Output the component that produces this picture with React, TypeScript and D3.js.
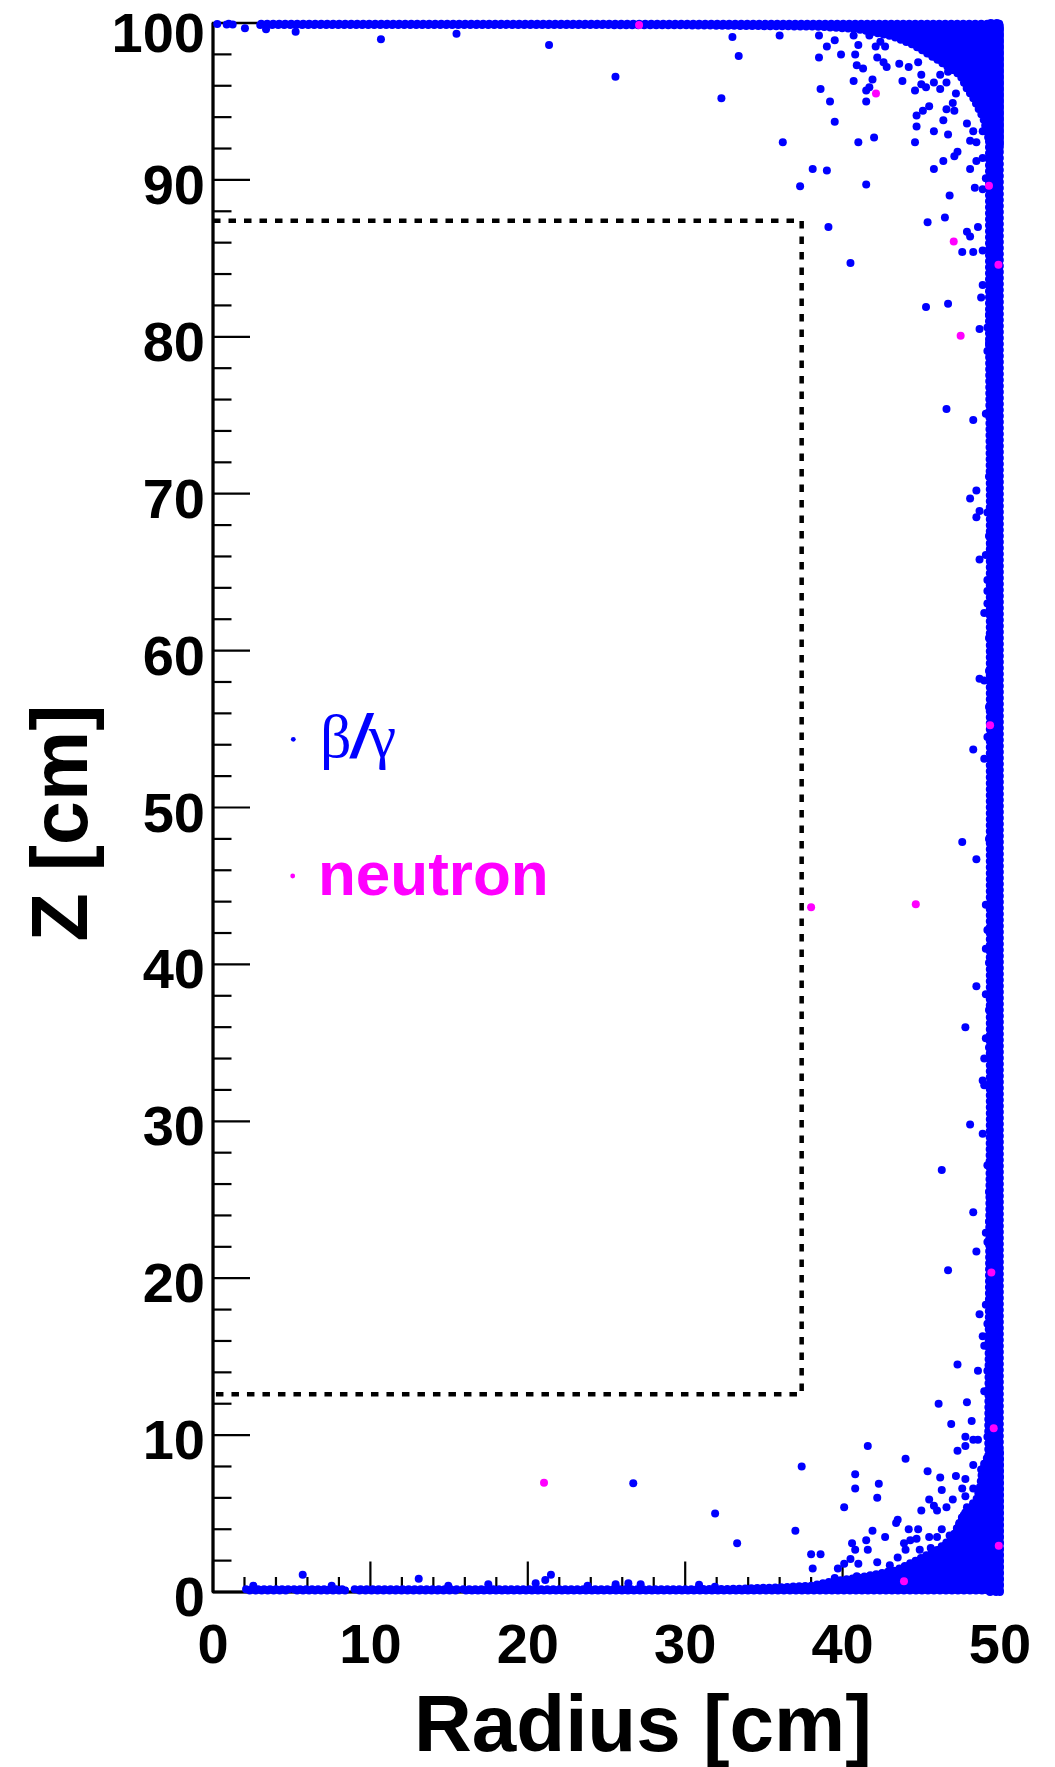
import * as d3 from "d3";

type Pt = [number, number];

// axes (cm)
const rDomain: Pt = [0, 50];
const zDomain: Pt = [0, 100];
const rLabels = [0, 10, 20, 30, 40, 50];
const zLabels = [0, 10, 20, 30, 40, 50, 60, 70, 80, 90, 100];

// fiducial volume (dashed)
const fiducial: Pt[] = [
  [0, 87.4],
  [37.4, 87.4],
  [37.4, 12.6],
  [0, 12.6],
];

// dense bands of beta/gamma hits, edges (r, z)
const topBandZ = 99.95;
const topBandEdges: Pt[][] = [
  [[0.87, 99.9], [1.29, 99.9]],
  [[3.0, 99.88], [20, 99.88], [30, 99.85], [35, 99.8], [38.35, 99.77], [41, 99.6], [43.2, 99.14], [44.5, 98.6], [45.34, 98.08], [46.19, 97.55], [46.8, 97.12], [47.46, 96.7], [47.88, 95.85], [48.31, 95.2], [48.94, 93.93], [49.37, 92.23], [50, 92.0]],
];
const bottomBandZ = 0.1;
const bottomBandEdges: Pt[][] = [
  [[2.1, 0.17], [4.85, 0.17]],
  [[5.15, 0.17], [8.45, 0.17]],
  [[9.0, 0.17], [15.6, 0.17]],
  [[15.9, 0.17], [30, 0.18], [33, 0.2], [36, 0.3], [38, 0.4], [39.2, 0.65], [41.3, 0.97], [43.4, 1.39], [44.7, 2.03], [45.55, 2.45], [46.0, 2.67], [47.0, 3.5], [47.6, 4.8], [47.9, 5.2], [48.5, 5.9], [48.73, 6.7], [48.9, 8.0], [49.3, 8.8], [50, 9.0]],
];
const wallR = 49.99;
// (z, inner r)
const wallEdge: Pt[] = [
  [0, 49.3], [10, 49.25], [20, 49.3], [30, 49.35], [40, 49.35], [50, 49.35], [60, 49.35], [70, 49.35], [80, 49.3], [90, 49.3], [100, 49.3],
];

// sparse beta/gamma hits (r, z)
const betaTop: Pt[] = [
  [0.27, 99.93], [2.03, 99.66], [3.37, 99.6], [5.25, 99.45], [10.67, 98.96], [15.47, 99.31], [21.35, 98.6], [25.57, 96.58],
  [33.0, 99.1], [36.0, 99.2], [33.4, 97.9], [32.3, 95.2], [36.2, 92.4], [38.5, 99.2], [39.0, 98.5], [39.5, 98.9], [38.5, 97.8], [39.9, 98.0],
  [40.7, 99.2], [41.0, 98.6], [40.8, 98.0], [40.9, 97.3], [41.3, 97.1], [41.7, 99.2], [42.1, 98.5], [42.4, 98.8], [42.7, 98.5], [42.2, 97.8],
  [42.6, 97.5], [42.8, 97.2], [41.9, 96.4], [40.7, 96.3], [38.6, 95.8], [39.2, 95.0], [39.5, 93.7], [41.5, 95.7], [41.7, 95.9], [41.5, 95.0],
  [41.0, 92.4], [42.0, 92.7], [38.1, 90.7], [39.0, 90.6], [37.3, 89.6], [41.5, 89.7], [39.1, 87.0], [40.5, 84.7], [43.6, 97.4], [44.2, 97.2],
  [43.8, 96.3], [44.6, 95.7], [45.0, 96.7], [45.0, 96.1], [45.3, 95.9], [44.8, 97.5], [45.8, 96.2], [46.2, 95.8], [46.6, 96.2], [46.2, 96.7],
  [46.7, 96.9], [44.7, 94.1], [45.1, 94.4], [45.5, 94.7], [44.7, 93.4], [44.6, 92.4], [45.8, 93.1], [46.4, 93.8], [46.7, 92.9], [46.6, 94.5],
  [47.1, 94.4], [47.0, 94.9], [47.2, 95.5], [46.4, 91.2], [45.8, 90.7], [47.1, 91.5], [47.3, 91.8], [48.1, 90.7], [48.4, 89.5], [48.9, 89.4],
  [48.5, 91.2], [48.9, 91.4], [49.1, 90.1], [46.8, 89.0], [45.4, 87.3], [46.5, 87.6], [47.9, 86.7], [48.1, 86.4], [48.6, 87.0], [47.6, 85.4],
  [48.3, 85.4], [48.9, 85.5], [45.3, 81.9], [46.7, 82.1], [48.7, 80.5], [49.2, 80.6], [49.3, 79.6], [49.2, 79.1], [48.9, 83.3], [48.8, 82.5],
  [49.3, 81.4], [47.9, 93.6], [48.3, 93.1], [48.1, 92.5], [48.5, 92.4], [48.9, 93.1],
];
const betaWall: Pt[] = [
  [46.6, 75.4], [48.3, 74.7], [49.1, 75.1], [49.3, 71.1], [48.5, 70.2], [48.1, 69.7], [48.7, 68.9], [49.2, 68.8], [48.5, 68.5], [49.3, 67.3],
  [49.4, 66.7], [49.1, 66.1], [48.7, 65.8], [49.2, 64.5], [49.2, 63.8], [49.2, 63.0], [49.0, 62.4], [49.3, 60.8], [49.4, 59.9], [48.7, 58.2],
  [49.0, 58.1], [49.3, 58.7], [49.3, 56.4], [49.2, 54.5], [48.3, 53.7], [49.0, 53.1], [49.3, 48.0], [47.6, 47.8], [48.5, 46.7], [49.1, 43.8],
  [49.2, 42.2], [49.1, 41.0], [49.3, 40.1], [48.5, 38.6], [49.1, 38.1], [49.3, 37.1], [47.8, 36.0], [49.1, 35.3], [49.3, 34.7], [49.0, 34.0],
  [48.9, 32.6], [49.0, 32.3], [48.1, 29.8], [48.9, 29.2],
];
const betaBottom: Pt[] = [
  [46.3, 26.9], [48.3, 24.2], [48.5, 21.7], [46.7, 20.5], [49.3, 23.6], [49.1, 22.9], [49.2, 22.3], [49.4, 24.9], [49.3, 25.5], [49.2, 27.2],
  [49.1, 18.3], [48.7, 17.7], [49.2, 17.1], [48.9, 16.3], [49.0, 15.7], [47.3, 14.5], [48.6, 14.1], [49.2, 14.1], [49.0, 12.8], [46.1, 12.0],
  [47.9, 12.1], [46.9, 10.7], [48.2, 10.9], [47.8, 9.9], [47.8, 9.3], [47.3, 9.0], [48.3, 9.7], [48.6, 9.7], [49.2, 9.9], [41.6, 9.3],
  [44.0, 8.5], [37.4, 8.0], [40.8, 7.5], [42.3, 6.9], [40.8, 6.6], [42.2, 6.0], [40.1, 5.4], [45.4, 7.7], [46.2, 7.3], [47.2, 7.4],
  [47.8, 7.2], [48.3, 8.1], [48.8, 7.8], [48.9, 7.5], [46.3, 6.5], [47.6, 6.6], [48.3, 6.6], [47.9, 5.4], [47.8, 6.1], [47.0, 5.9],
  [45.5, 5.9], [45.8, 5.5], [46.0, 5.2], [46.6, 5.4], [45.0, 5.2], [43.5, 4.6], [43.4, 4.4], [44.2, 4.0], [44.8, 4.0], [46.3, 4.0],
  [41.9, 3.9], [42.7, 3.5], [41.5, 3.3], [40.6, 3.1], [41.6, 2.7], [40.8, 2.7], [38.0, 2.4], [38.6, 2.4], [38.1, 1.5], [37.0, 3.9],
  [31.9, 5.0], [33.3, 3.1], [39.7, 1.5], [40.1, 1.8], [40.5, 2.1], [41.0, 1.8], [42.2, 1.9], [43.0, 1.7], [43.5, 2.2], [43.9, 3.1],
  [44.0, 2.7], [44.3, 3.3], [44.7, 3.4], [44.9, 2.7], [45.6, 2.8], [45.5, 3.5], [46.0, 3.5], [46.8, 3.6], [47.2, 3.0], [47.4, 4.3],
  [47.7, 4.9], [48.1, 5.1], [48.5, 5.6], [48.8, 4.9], [48.4, 4.8], [40.9, 1.0], [41.7, 0.9], [42.4, 0.9], [43.2, 0.8], [39.5, 0.9],
  [44.5, 1.6], [45.8, 1.9], [46.6, 2.1],
  [2.56, 0.4], [5.7, 1.1], [7.54, 0.4], [13.07, 0.85], [14.95, 0.4], [17.49, 0.49], [20.5, 0.55], [21.11, 0.76], [21.47, 1.1], [23.8, 0.4],
  [25.58, 0.49], [26.39, 0.55], [27.17, 0.49], [30.88, 0.47], [31.89, 0.34], [26.7, 6.93],
];

// neutron hits (r, z)
const neutron: Pt[] = [
  [27.07, 99.87], [42.12, 95.5], [49.3, 89.63], [47.06, 86.08], [49.9, 84.59], [47.5, 80.07], [49.37, 55.24], [44.65, 43.84],
  [38.0, 43.65], [49.45, 20.37], [49.6, 10.43], [49.92, 2.95], [43.9, 0.69], [21.03, 6.97],
];

const BLUE = "#0000ff";
const MAGENTA = "#ff00ff";
const FONT = "'Liberation Sans', Arial, Helvetica, sans-serif";
const DOT = 4;

export default function App() {
  const x = d3.scaleLinear().domain(rDomain).range([213, 1000]);
  const y = d3.scaleLinear().domain(zDomain).range([1592, 23]);

  const topArea = d3.area<Pt>().x((d) => x(d[0])).y0(y(topBandZ)).y1((d) => y(d[1]));
  const bottomArea = d3.area<Pt>().x((d) => x(d[0])).y0(y(bottomBandZ)).y1((d) => y(d[1]));
  const wallArea = d3.area<Pt>().y((d) => y(d[0])).x0((d) => x(d[1])).x1(x(wallR));
  const dashPath = d3.line<Pt>().x((d) => x(d[0])).y((d) => y(d[1]))(fiducial) || "";

  const zTicks = d3.range(0, 101, 2);
  const rTicks = d3.range(0, 51, 2);
  const beta = [...betaTop, ...betaWall, ...betaBottom];

  const bands = [
    ...topBandEdges.map((seg) => topArea(seg) || ""),
    ...bottomBandEdges.map((seg) => bottomArea(seg) || ""),
    wallArea(wallEdge) || "",
  ];

  return (
    <svg width={1055} height={1767} style={{ position: "absolute", left: 0, top: 0, background: "#fff" }} fontFamily={FONT}>
      {/* frame + axes */}
      <rect x={x(0)} y={y(100)} width={x(50) - x(0)} height={y(0) - y(100)} fill="none" stroke="#000" strokeWidth={2.5} />
      <line x1={x(0)} x2={x(0)} y1={y(100)} y2={y(0)} stroke="#000" strokeWidth={3} />
      <line x1={x(0)} x2={x(50)} y1={y(0)} y2={y(0)} stroke="#000" strokeWidth={3} />
      {zTicks.map((v) => (
        <line key={"zt" + v} x1={x(0)} x2={x(0) + (v % 10 === 0 ? 37 : 18.5)} y1={y(v)} y2={y(v)} stroke="#000" strokeWidth={2.2} />
      ))}
      {rTicks.map((v) => (
        <line key={"rt" + v} x1={x(v)} x2={x(v)} y1={y(0)} y2={y(0) - (v % 10 === 0 ? 30.5 : 15)} stroke="#000" strokeWidth={2.2} />
      ))}
      {zLabels.map((v) => (
        <text key={"zl" + v} x={x(0) - 8} y={Math.max(y(v) + 24, 52)} textAnchor="end" fontSize={56} fontWeight="bold">
          {v}
        </text>
      ))}
      {rLabels.map((v) => (
        <text key={"rl" + v} x={x(v)} y={1663} textAnchor="middle" fontSize={56} fontWeight="bold">
          {v}
        </text>
      ))}
      <text x={414} y={1751} fontSize={80} fontWeight="bold">
        Radius [cm]
      </text>
      <text transform="translate(87,823) rotate(-90)" textAnchor="middle" fontSize={79} fontWeight="bold">
        Z [cm]
      </text>

      {/* dense bands: filled, with a beaded rim so the edge reads as dots */}
      <g fill={BLUE} stroke={BLUE} strokeLinejoin="round">
        {bands.map((d, i) => (
          <path key={"f" + i} d={d} strokeWidth={5} />
        ))}
        {bands.map((d, i) => (
          <path key={"e" + i} d={d} fill="none" strokeWidth={DOT * 2} strokeLinecap="round" strokeDasharray="0 6" />
        ))}
      </g>

      {/* hits */}
      {beta.map((d, i) => (
        <circle key={"b" + i} cx={x(d[0])} cy={y(d[1])} r={DOT} fill={BLUE} />
      ))}
      {neutron.map((d, i) => (
        <circle key={"n" + i} cx={x(d[0])} cy={y(d[1])} r={DOT} fill={MAGENTA} />
      ))}

      {/* fiducial cut */}
      <path d={dashPath} fill="none" stroke="#000" strokeWidth={4.5} strokeDasharray="7.5 8" />

      {/* legend */}
      <circle cx={293.3} cy={739.3} r={2.4} fill={BLUE} />
      <text x={320} y={757} fontSize={62} fill={BLUE}>
        <tspan fontFamily="'Liberation Serif', 'DejaVu Serif', serif">β</tspan>
        <tspan fontWeight="bold" fontStyle="italic">/</tspan>
        <tspan fontFamily="'Liberation Serif', 'DejaVu Serif', serif">γ</tspan>
      </text>
      <circle cx={292.7} cy={876} r={2.4} fill={MAGENTA} />
      <text x={318} y={895} fontSize={62} fontWeight="bold" fill={MAGENTA}>
        neutron
      </text>
    </svg>
  );
}
